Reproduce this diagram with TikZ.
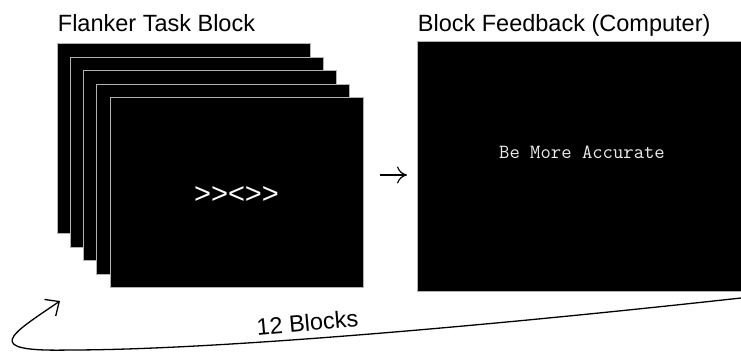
\documentclass[tikz,border=0pt]{standalone}
\usepackage{fontspec}
\setmainfont{Liberation Sans}
\usetikzlibrary{arrows.meta}

\begin{document}
\begin{tikzpicture}[x=1pt,y=-1pt,thick]
      \tikzstyle{every node}=[inner sep=0pt]
      \tikzstyle{screen}=[draw=gray!60, line width=1pt, fill=black, minimum width=253pt, minimum height=190pt]
      \tikzstyle{title}=[anchor=base west, font=\fontsize{23.5}{28}\selectfont]
      \tikzstyle{flow}=[line width=1.2pt, -{Computer Modern Rightarrow[length=10pt,width=17pt]}]
      \tikzstyle{backarrow}=[line width=1.3pt, -{Straight Barb[length=11pt,width=20pt]}]
      \useasboundingbox (0,0) rectangle (741,352);
      % 
      \foreach \i in {1,...,5}
        \node [screen] (s\i) at ({183.5+13.25*(\i-1)}, {139+13.5*(\i-1)}) {};
      \node [white, font=\fontsize{29}{30}\selectfont] (stim) at (236.5,195) {>{}>{}<{}>{}>};
      \node [screen, minimum width=328pt, minimum height=250pt] (fb) at (581,167) {};
      \node [white!85!gray, font=\ttfamily\fontsize{20.1}{24}\selectfont] (msg) at (582,152) {Be More Accurate};
      % 
      \node [title] (t1) at ([xshift=1pt,yshift=12pt]s1.north west) {Flanker Task Block};
      \node [title] (t2) at ([xshift=1pt,yshift=10pt]fb.north west) {Block Feedback (Computer)};
      % 
      \coordinate (arrS) at (380,175);
      \coordinate (arrE) at (407,175);
      \draw [flow] (arrS) -- (arrE);
      % 
      \coordinate (back) at (741,298);
      \coordinate (again) at (60,301);
      \draw [backarrow] (back) .. controls (450,330) and (200,350) .. (70,350)
                        .. controls (-20,352) and (10,335) .. (again);
      \node [title, anchor=base, rotate=5] (reps) at (308,331) {12 Blocks};
    \end{tikzpicture}
\end{document}
